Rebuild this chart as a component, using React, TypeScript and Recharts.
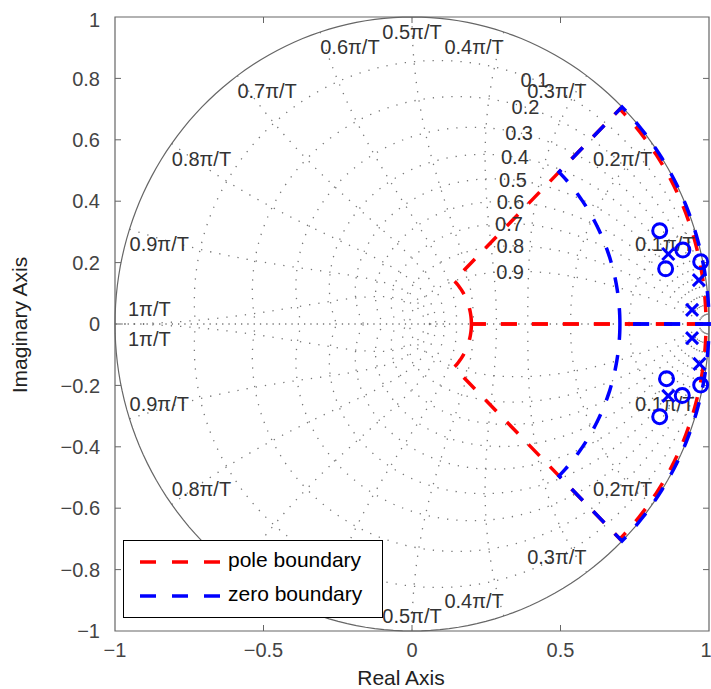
import React from "react";
import {
  ComposedChart,
  Scatter,
  XAxis,
  YAxis,
  ReferenceLine,
  ReferenceArea,
  Legend,
  Label,
} from "recharts";

// zgrid settings
const zetaValues = [0.1, 0.2, 0.3, 0.4, 0.5, 0.6, 0.7, 0.8, 0.9];
// angle (rad) along each damping spiral where its label sits
const zetaLabelAngles = [1.093, 1.075, 1.046, 1.004, 0.944, 0.876, 0.787, 0.655, 0.479];
// natural frequencies, in units of pi/T
const wnValues = [0.1, 0.2, 0.3, 0.4, 0.5, 0.6, 0.7, 0.8, 0.9, 1];

const xTicks = [-1, -0.5, 0, 0.5, 1];
const yTicks = [-1, -0.8, -0.6, -0.4, -0.2, 0, 0.2, 0.4, 0.6, 0.8, 1];

// zeros (o) and poles (x)
const zeroPoints = [
  { x: 0.834, y: 0.304 },
  { x: 0.912, y: 0.241 },
  { x: 0.854, y: 0.18 },
  { x: 0.972, y: 0.203 },
  { x: 0.834, y: -0.302 },
  { x: 0.91, y: -0.233 },
  { x: 0.857, y: -0.178 },
  { x: 0.972, y: -0.199 },
];
const polePoints = [
  { x: 0.863, y: 0.228 },
  { x: 0.966, y: 0.143 },
  { x: 0.943, y: 0.046 },
  { x: 0.943, y: -0.046 },
  { x: 0.968, y: -0.13 },
  { x: 0.863, y: -0.234 },
];

// boundaries: sector between two radii, +/- angle (deg)
const poleBoundary = { inner: 0.2, outer: 0.99, angle: 45 };
const zeroBoundary = { inner: 0.7, outer: 1.0, angle: 45 };

const legendItems = [
  { label: "pole boundary", color: "#ff0000" },
  { label: "zero boundary", color: "#0000ff" },
];

const W = 703;
const H = 681;
const margin = { top: 9, right: 2, bottom: 10, left: 10 };
const Y_AXIS_W = 97;
const X_AXIS_H = 48;
const plotW = W - margin.left - margin.right - Y_AXIS_W;
const plotH = H - margin.top - margin.bottom - X_AXIS_H;
const TICK_PX = 6;
const FONT = "'Liberation Sans', Arial, Helvetica, sans-serif";

const polar = (r: number, a: number) => ({ x: r * Math.cos(a), y: r * Math.sin(a) });
const arc = (r: number, a0: number, a1: number, n = 40) =>
  Array.from({ length: n + 1 }, (_, i) => polar(r, a0 + ((a1 - a0) * i) / n));

const sector = (b: { inner: number; outer: number; angle: number }, sign: number) => {
  const a = (sign * b.angle * Math.PI) / 180;
  return [...arc(b.inner, 0, a), ...arc(b.outer, a, 0), { x: b.inner, y: 0 }];
};

const zetaCurve = (z: number, sign: number) => {
  const m = z / Math.sqrt(1 - z * z);
  return Array.from({ length: 121 }, (_, i) => {
    const t = (Math.PI * i) / 120;
    const r = Math.exp(-m * t);
    return { x: r * Math.cos(t), y: sign * r * Math.sin(t) };
  });
};

const wnCurve = (w: number, sign: number) => {
  const wn = w * Math.PI;
  return Array.from({ length: 61 }, (_, i) => {
    const z = i / 60;
    const r = Math.exp(-wn * z);
    const t = wn * Math.sqrt(1 - z * z);
    return { x: r * Math.cos(t), y: sign * r * Math.sin(t) };
  });
};

const unitCircle = arc(1, 0, 2 * Math.PI, 200);
const realAxis = [
  { x: -1, y: 0 },
  { x: 1, y: 0 },
];

const zetaLabels = zetaValues.map((z, i) => {
  const m = z / Math.sqrt(1 - z * z);
  const t = zetaLabelAngles[i];
  const r = Math.exp(-m * t);
  return { x: r * Math.cos(t), y: r * Math.sin(t), text: String(z) };
});

const wnLabels = [1, -1].flatMap((sign) =>
  wnValues.map((w) => ({
    x: Math.cos(w * Math.PI),
    y: sign * Math.sin(w * Math.PI),
    text: `${w}\u03c0/T`,
    w,
    upper: sign > 0,
  }))
);

const fmt = (v: number) => (v === 0 ? "0" : (v < 0 ? "\u2212" : "") + String(Math.abs(v)));

const noDot = () => null;

const ZetaText = (p: any) => (
  <text x={p.cx} y={p.cy} dy="0.36em" textAnchor="middle" fontSize={20} fill="#333" fontFamily={FONT}>
    {p.payload.text}
  </text>
);

const WnText = (p: any) => {
  const w = p.payload.w;
  const anchor = w < 0.49 ? "end" : w < 0.51 ? "middle" : "start";
  const dx = w > 0.99 ? 13 : 0;
  const dy = p.payload.upper ? 22 : -8;
  return (
    <text x={p.cx + dx} y={p.cy + dy} textAnchor={anchor} fontSize={20} fill="#333" fontFamily={FONT}>
      {p.payload.text}
    </text>
  );
};

const ZeroMark = (p: any) => (
  <circle cx={p.cx} cy={p.cy} r={7} fill="none" stroke="#0000ff" strokeWidth={3} />
);

const PoleMark = (p: any) => {
  const s = 6;
  return (
    <g stroke="#0000ff" strokeWidth={3}>
      <line x1={p.cx - s} y1={p.cy - s} x2={p.cx + s} y2={p.cy + s} />
      <line x1={p.cx - s} y1={p.cy + s} x2={p.cx + s} y2={p.cy - s} />
    </g>
  );
};

const LegendBox = () => (
  <svg width={261} height={79} style={{ display: "block" }}>
    <rect x={0.5} y={0.5} width={259} height={77} fill="#fff" stroke="#000" strokeWidth={1} />
    {legendItems.map((it, i) => (
      <g key={it.label}>
        <line
          x1={17}
          x2={97}
          y1={22 + i * 34}
          y2={22 + i * 34}
          stroke={it.color}
          strokeWidth={3.5}
          strokeDasharray="16 16"
        />
        <text x={105} y={27 + i * 34} fontSize={21} fill="#000" fontFamily={FONT}>
          {it.label}
        </text>
      </g>
    ))}
  </svg>
);

const gridLine = { stroke: "#777", strokeWidth: 1.3, strokeDasharray: "1.3 8" };

export default function App() {
  const dy = (2 * TICK_PX) / plotH;
  const dx = (2 * TICK_PX) / plotW;
  // body margin is moved into the wrapper so the whole 711x689 page belongs to #root
  return (
    <div
      style={{
        width: W + 8,
        height: H + 8,
        paddingLeft: 8,
        paddingTop: 8,
        boxSizing: "border-box",
        fontFamily: FONT,
      }}
    >
      <style>{"body{margin:0}"}</style>
      <ComposedChart width={W} height={H} margin={margin}>
        <XAxis
          type="number"
          dataKey="x"
          domain={[-1, 1]}
          ticks={xTicks}
          tickFormatter={fmt}
          axisLine={false}
          tickLine={false}
          tickSize={0}
          tickMargin={12}
          height={X_AXIS_H}
          tick={{ fill: "#444", fontSize: 20, fontFamily: FONT }}
        >
          <Label
            content={({ viewBox }: any) => (
              <text
                x={viewBox.x + viewBox.width / 2 - 11}
                y={viewBox.y + 54}
                textAnchor="middle"
                fontSize={21}
                fill="#222"
                fontFamily={FONT}
              >
                Real Axis
              </text>
            )}
          />
        </XAxis>
        <YAxis
          type="number"
          dataKey="y"
          domain={[-1, 1]}
          ticks={yTicks}
          tickFormatter={fmt}
          axisLine={false}
          tickLine={false}
          tickSize={0}
          tickMargin={15}
          width={Y_AXIS_W}
          tick={{ fill: "#444", fontSize: 20, fontFamily: FONT }}
        >
          <Label
            content={({ viewBox }: any) => (
              <text
                x={19}
                y={viewBox.y + viewBox.height / 2 + 1}
                transform={`rotate(-90 19 ${viewBox.y + viewBox.height / 2 + 1})`}
                textAnchor="middle"
                fontSize={21}
                fill="#222"
                fontFamily={FONT}
              >
                Imaginary Axis
              </text>
            )}
          />
        </YAxis>

        {/* zgrid: damping spirals and natural frequency curves */}
        {zetaValues.flatMap((z) =>
          [1, -1].map((s) => (
            <Scatter
              key={`z${z}${s}`}
              data={zetaCurve(z, s)}
              line={gridLine}
              shape={noDot}
              isAnimationActive={false}
            />
          ))
        )}
        {wnValues.flatMap((w) =>
          [1, -1].map((s) => (
            <Scatter
              key={`w${w}${s}`}
              data={wnCurve(w, s)}
              line={gridLine}
              shape={noDot}
              isAnimationActive={false}
            />
          ))
        )}
        <Scatter data={realAxis} line={{ ...gridLine, strokeDasharray: "1.3 5" }} shape={noDot} isAnimationActive={false} />
        <Scatter data={unitCircle} line={{ stroke: "#666", strokeWidth: 1.2 }} shape={noDot} isAnimationActive={false} />

        {/* boundaries */}
        {[1, -1].map((s) => (
          <Scatter
            key={`pb${s}`}
            data={sector(poleBoundary, s)}
            line={{ stroke: "#ff0000", strokeWidth: 3.5, strokeDasharray: "16 15" }}
            shape={noDot}
            isAnimationActive={false}
          />
        ))}
        {[1, -1].map((s) => (
          <Scatter
            key={`zb${s}`}
            data={sector(zeroBoundary, s)}
            line={{ stroke: "#0000ff", strokeWidth: 3.5, strokeDasharray: "16 15" }}
            shape={noDot}
            isAnimationActive={false}
          />
        ))}

        <Scatter data={zetaLabels} shape={ZetaText} isAnimationActive={false} />
        <Scatter data={wnLabels} shape={WnText} isAnimationActive={false} />

        <Scatter data={zeroPoints} shape={ZeroMark} isAnimationActive={false} />
        <Scatter data={polePoints} shape={PoleMark} isAnimationActive={false} />

        {/* axes box and inward ticks */}
        <ReferenceArea x1={-1} x2={1} y1={-1} y2={1} fill="none" stroke="#666" strokeWidth={1.2} />
        {xTicks.slice(1, -1).flatMap((t) => [
          <ReferenceLine key={`xb${t}`} segment={[{ x: t, y: -1 }, { x: t, y: -1 + dy }]} stroke="#666" />,
          <ReferenceLine key={`xt${t}`} segment={[{ x: t, y: 1 }, { x: t, y: 1 - dy }]} stroke="#666" />,
        ])}
        {yTicks.slice(1, -1).flatMap((t) => [
          <ReferenceLine key={`yl${t}`} segment={[{ x: -1, y: t }, { x: -1 + dx, y: t }]} stroke="#666" />,
          <ReferenceLine key={`yr${t}`} segment={[{ x: 1, y: t }, { x: 1 - dx, y: t }]} stroke="#666" />,
        ])}

        <Legend
          layout="horizontal"
          verticalAlign="middle"
          align="center"
          content={LegendBox}
          wrapperStyle={{ left: 115, top: 532, width: 261, height: 79, right: "auto", bottom: "auto" }}
        />
      </ComposedChart>
    </div>
  );
}
